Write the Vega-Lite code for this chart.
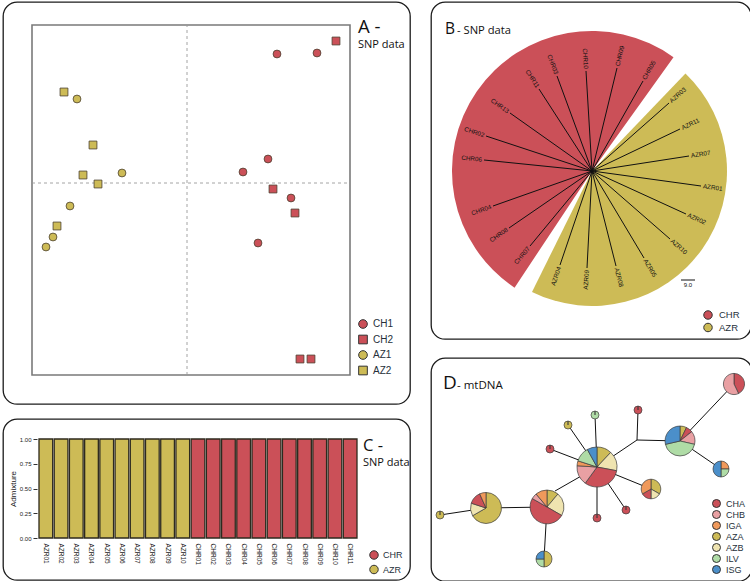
{
"$schema": "https://vega.github.io/schema/vega-lite/v6.json",
"background": "white",
"padding": {"left": 2, "top": 1, "right": 0, "bottom": 0},
"spacing": 19,
"resolve": {"scale": {"color": "independent", "shape": "independent"}, "legend": {"color": "independent", "shape": "independent"}},
"hconcat": [
{
"vconcat": [
{
"width": 407, "height": 402,
"layer": [
{"data": {"values": [{"x0": -1.55, "x1": 1.63, "y0": -1.92, "y1": 1.58}]},
 "mark": {"type": "rect", "fill": "white", "stroke": "#7a7a7a", "strokeWidth": 1.6},
 "encoding": {"x": {"field": "x0", "type": "quantitative", "scale": {"domain": [-1.84, 2.23], "nice": false, "zero": false}, "axis": null}, "x2": {"field": "x1"},
              "y": {"field": "y0", "type": "quantitative", "scale": {"domain": [-2.21, 1.81], "nice": false, "zero": false}, "axis": null}, "y2": {"field": "y1"}}},
{"data": {"values": [{"x0": 0, "x1": 0, "y0": -1.92, "y1": 1.58}, {"x0": -1.55, "x1": 1.63, "y0": 0, "y1": 0}]},
 "mark": {"type": "rule", "stroke": "#9a9a9a", "strokeWidth": 0.9, "strokeDash": [3, 3]},
 "encoding": {"x": {"field": "x0", "type": "quantitative", "scale": {"domain": [-1.84, 2.23], "nice": false, "zero": false}, "axis": null}, "x2": {"field": "x1"},
              "y": {"field": "y0", "type": "quantitative", "scale": {"domain": [-2.21, 1.81], "nice": false, "zero": false}, "axis": null}, "y2": {"field": "y1"}}},
{"data": {"values": [
  {"grp": "AZ2", "pc1": -1.23, "pc2": 0.91},
  {"grp": "AZ2", "pc1": -0.94, "pc2": 0.38},
  {"grp": "AZ2", "pc1": -1.04, "pc2": 0.08},
  {"grp": "AZ2", "pc1": -0.89, "pc2": -0.01},
  {"grp": "AZ2", "pc1": -1.30, "pc2": -0.43},
  {"grp": "AZ1", "pc1": -1.10, "pc2": 0.84},
  {"grp": "AZ1", "pc1": -0.65, "pc2": 0.10},
  {"grp": "AZ1", "pc1": -1.17, "pc2": -0.23},
  {"grp": "AZ1", "pc1": -1.34, "pc2": -0.54},
  {"grp": "AZ1", "pc1": -1.41, "pc2": -0.64},
  {"grp": "CH1", "pc1": 0.90, "pc2": 1.29},
  {"grp": "CH1", "pc1": 1.30, "pc2": 1.30},
  {"grp": "CH1", "pc1": 0.81, "pc2": 0.24},
  {"grp": "CH1", "pc1": 0.56, "pc2": 0.11},
  {"grp": "CH1", "pc1": 1.04, "pc2": -0.15},
  {"grp": "CH1", "pc1": 0.71, "pc2": -0.60},
  {"grp": "CH2", "pc1": 1.49, "pc2": 1.42},
  {"grp": "CH2", "pc1": 0.86, "pc2": -0.06},
  {"grp": "CH2", "pc1": 1.08, "pc2": -0.30},
  {"grp": "CH2", "pc1": 1.13, "pc2": -1.76},
  {"grp": "CH2", "pc1": 1.24, "pc2": -1.76}]},
 "mark": {"type": "point", "filled": true, "size": 62, "stroke": "#4a4030", "strokeWidth": 0.8, "opacity": 1},
 "encoding": {"x": {"field": "pc1", "type": "quantitative", "scale": {"domain": [-1.84, 2.23], "nice": false, "zero": false}, "axis": null},
              "y": {"field": "pc2", "type": "quantitative", "scale": {"domain": [-2.21, 1.81], "nice": false, "zero": false}, "axis": null},
              "color": {"field": "grp", "type": "nominal", "scale": {"domain": ["CH1", "CH2", "AZ1", "AZ2"], "range": ["#CB5058", "#CB5058", "#CDBB56", "#CDBB56"]},
                        "legend": {"title": null, "orient": "none", "legendX": 355, "legendY": 317, "symbolSize": 75, "labelFontSize": 10, "rowPadding": 1.5, "labelOffset": 5}},
              "shape": {"field": "grp", "type": "nominal", "scale": {"domain": ["CH1", "CH2", "AZ1", "AZ2"], "range": ["circle", "square", "circle", "square"]},
                        "legend": {"title": null, "orient": "none", "legendX": 355, "legendY": 317, "symbolSize": 75, "labelFontSize": 10, "rowPadding": 1.5, "labelOffset": 5}}}},
{"data": {"values": [{"t": "A -", "x": 1.71, "y": 1.50}]},
 "mark": {"type": "text", "font": "Open Sans", "fontSize": 18.5, "align": "left", "baseline": "alphabetic", "color": "#111111"},
 "encoding": {"x": {"field": "x", "type": "quantitative", "scale": {"domain": [-1.84, 2.23], "nice": false, "zero": false}, "axis": null},
              "y": {"field": "y", "type": "quantitative", "scale": {"domain": [-2.21, 1.81], "nice": false, "zero": false}, "axis": null},
              "text": {"field": "t", "type": "nominal"}}},
{"data": {"values": [{"t": "SNP data", "x": 1.71, "y": 1.35}]},
 "mark": {"type": "text", "font": "Open Sans", "fontSize": 11, "align": "left", "baseline": "alphabetic", "color": "#111111"},
 "encoding": {"x": {"field": "x", "type": "quantitative", "scale": {"domain": [-1.84, 2.23], "nice": false, "zero": false}, "axis": null},
              "y": {"field": "y", "type": "quantitative", "scale": {"domain": [-2.21, 1.81], "nice": false, "zero": false}, "axis": null},
              "text": {"field": "t", "type": "nominal"}}}
]
},
{
"width": 407, "height": 161,
"layer": [
{"data": {"values": [
  {"id": "AZR01", "pop": "AZR", "q": 1}, {"id": "AZR02", "pop": "AZR", "q": 1}, {"id": "AZR03", "pop": "AZR", "q": 1},
  {"id": "AZR04", "pop": "AZR", "q": 1}, {"id": "AZR05", "pop": "AZR", "q": 1}, {"id": "AZR06", "pop": "AZR", "q": 1},
  {"id": "AZR07", "pop": "AZR", "q": 1}, {"id": "AZR08", "pop": "AZR", "q": 1}, {"id": "AZR09", "pop": "AZR", "q": 1},
  {"id": "AZR10", "pop": "AZR", "q": 1},
  {"id": "CHR01", "pop": "CHR", "q": 1}, {"id": "CHR02", "pop": "CHR", "q": 1}, {"id": "CHR03", "pop": "CHR", "q": 1},
  {"id": "CHR04", "pop": "CHR", "q": 1}, {"id": "CHR05", "pop": "CHR", "q": 1}, {"id": "CHR06", "pop": "CHR", "q": 1},
  {"id": "CHR07", "pop": "CHR", "q": 1}, {"id": "CHR08", "pop": "CHR", "q": 1}, {"id": "CHR09", "pop": "CHR", "q": 1},
  {"id": "CHR10", "pop": "CHR", "q": 1}, {"id": "CHR11", "pop": "CHR", "q": 1}]},
 "mark": {"type": "bar", "stroke": "#2e2a1e", "strokeWidth": 1.3},
 "encoding": {
   "x": {"field": "id", "type": "nominal", "sort": null, "scale": {"range": [36, 354], "paddingInner": 0.1, "paddingOuter": 0},
         "axis": {"title": null, "orient": "bottom", "offset": -42, "labelAngle": 90, "ticks": false, "domain": false, "labelPadding": 5, "labelFontSize": 6.5, "labelFont": "Liberation Sans", "labelColor": "#222222"}},
   "y": {"field": "q", "type": "quantitative", "stack": null, "scale": {"domain": [0, 1], "range": [119, 20], "nice": false},
         "axis": {"values": [0, 0.25, 0.5, 0.75, 1], "format": ".2f", "offset": -34, "grid": false, "domain": false, "tickSize": 4, "tickColor": "#333333",
                  "labelFontSize": 6, "labelFont": "Liberation Sans", "labelColor": "#222222", "labelPadding": 2, "title": "Admixture", "titleFontSize": 8, "titleFont": "Liberation Sans", "titleFontWeight": "normal", "titleColor": "#222222", "titlePadding": 2}},
   "color": {"field": "pop", "type": "nominal", "scale": {"domain": ["CHR", "AZR"], "range": ["#CB5058", "#CDBB56"]},
             "legend": {"title": null, "orient": "none", "legendX": 366, "legendY": 131, "symbolType": "circle", "symbolSize": 72, "labelFontSize": 9, "rowPadding": 0.5, "labelOffset": 4}}}},
{"data": {"values": [{"t": "C -", "px": 0.8845, "py": 0.80}]},
 "mark": {"type": "text", "font": "Open Sans", "fontSize": 16.5, "align": "left", "baseline": "alphabetic", "color": "#111111"},
 "encoding": {"x": {"field": "px", "type": "quantitative", "scale": {"domain": [0, 1], "nice": false, "zero": false}, "axis": null},
              "y": {"field": "py", "type": "quantitative", "scale": {"domain": [0, 1], "nice": false, "zero": false}, "axis": null},
              "text": {"field": "t", "type": "nominal"}}},
{"data": {"values": [{"t": "SNP data", "px": 0.8845, "py": 0.705}]},
 "mark": {"type": "text", "font": "Open Sans", "fontSize": 11, "align": "left", "baseline": "alphabetic", "color": "#111111"},
 "encoding": {"x": {"field": "px", "type": "quantitative", "scale": {"domain": [0, 1], "nice": false, "zero": false}, "axis": null},
              "y": {"field": "py", "type": "quantitative", "scale": {"domain": [0, 1], "nice": false, "zero": false}, "axis": null},
              "text": {"field": "t", "type": "nominal"}}}
],
"resolve": {"scale": {"x": "independent", "y": "independent"}}
}
],
"spacing": 15,
"bounds": "flush",
"resolve": {"scale": {"color": "independent", "shape": "independent"}, "legend": {"color": "independent", "shape": "independent"}}
},
{
"vconcat": [
{
"width": 320, "height": 337,
"layer": [
{"data": {"values": [{"pop": "CHR", "cx": 0, "cy": 0, "a0": -0.4067, "a1": 0.0989}]},
 "mark": {"type": "arc", "outerRadius": 140},
 "encoding": {"x": {"field": "cx", "type": "quantitative", "stack": null, "scale": {"domain": [-161, 159], "nice": false, "zero": false}, "axis": null},
              "y": {"field": "cy", "type": "quantitative", "stack": null, "scale": {"domain": [-168, 169], "nice": false, "zero": false}, "axis": null},
              "theta": {"field": "a0", "type": "quantitative", "stack": null, "scale": {"domain": [0, 1], "range": [0, 6.283185]}},
              "theta2": {"field": "a1"},
              "color": {"field": "pop", "type": "nominal", "scale": {"domain": ["CHR", "AZR"], "range": ["#CB5058", "#CDBB56"]},
                        "legend": {"title": null, "orient": "none", "legendX": 272, "legendY": 308, "symbolType": "circle", "symbolSize": 72, "labelFontSize": 9.5, "rowPadding": -1.5, "labelOffset": 6}}}},
{"data": {"values": [{"pop": "AZR", "cx": 0, "cy": 0, "a0": 0.1217, "a1": 0.5733}]},
 "mark": {"type": "arc", "outerRadius": 135},
 "encoding": {"x": {"field": "cx", "type": "quantitative", "stack": null, "scale": {"domain": [-161, 159], "nice": false, "zero": false}, "axis": null},
              "y": {"field": "cy", "type": "quantitative", "stack": null, "scale": {"domain": [-168, 169], "nice": false, "zero": false}, "axis": null},
              "theta": {"field": "a0", "type": "quantitative", "stack": null, "scale": {"domain": [0, 1], "range": [0, 6.283185]}},
              "theta2": {"field": "a1"},
              "color": {"field": "pop", "type": "nominal", "scale": {"domain": ["CHR", "AZR"], "range": ["#CB5058", "#CDBB56"]},
                        "legend": {"title": null, "orient": "none", "legendX": 272, "legendY": 308, "symbolType": "circle", "symbolSize": 72, "labelFontSize": 9.5, "rowPadding": -1.5, "labelOffset": 6}}}},
{"data": {"name": "tree"},
 "mark": {"type": "rule", "stroke": "#111111", "strokeWidth": 1},
 "encoding": {"x": {"field": "cx", "type": "quantitative", "scale": {"domain": [-161, 159], "nice": false, "zero": false}, "axis": null},
              "y": {"field": "cy", "type": "quantitative", "scale": {"domain": [-168, 169], "nice": false, "zero": false}, "axis": null},
              "x2": {"field": "tx"}, "y2": {"field": "ty"}}},
{"data": {"name": "tree"},
 "transform": [{"filter": {"field": "theta", "lt": 180}}],
 "mark": {"type": "text", "font": "Liberation Sans", "fontSize": 6.3, "align": "left", "baseline": "middle", "dx": 2, "color": "#111111"},
 "encoding": {"x": {"field": "tx", "type": "quantitative", "scale": {"domain": [-161, 159], "nice": false, "zero": false}, "axis": null},
              "y": {"field": "ty", "type": "quantitative", "scale": {"domain": [-168, 169], "nice": false, "zero": false}, "axis": null},
              "angle": {"field": "theta", "type": "quantitative", "scale": {"domain": [0, 180], "range": [-90, 90]}, "legend": null},
              "text": {"field": "id", "type": "nominal"}}},
{"data": {"name": "tree"},
 "transform": [{"filter": {"field": "theta", "gte": 180}}],
 "mark": {"type": "text", "font": "Liberation Sans", "fontSize": 6.3, "align": "right", "baseline": "middle", "dx": -2, "color": "#111111"},
 "encoding": {"x": {"field": "tx", "type": "quantitative", "scale": {"domain": [-161, 159], "nice": false, "zero": false}, "axis": null},
              "y": {"field": "ty", "type": "quantitative", "scale": {"domain": [-168, 169], "nice": false, "zero": false}, "axis": null},
              "angle": {"field": "theta", "type": "quantitative", "scale": {"domain": [180, 360], "range": [-90, 90]}, "legend": null},
              "text": {"field": "id", "type": "nominal"}}},
{"data": {"values": [{"x0": 89, "x1": 103, "y0": -109}]},
 "mark": {"type": "rule", "stroke": "#111111", "strokeWidth": 1},
 "encoding": {"x": {"field": "x0", "type": "quantitative", "scale": {"domain": [-161, 159], "nice": false, "zero": false}, "axis": null},
              "x2": {"field": "x1"},
              "y": {"field": "y0", "type": "quantitative", "scale": {"domain": [-168, 169], "nice": false, "zero": false}, "axis": null}}},
{"data": {"values": [{"t": "9.0", "x": 96, "y": -116}]},
 "mark": {"type": "text", "font": "Liberation Sans", "fontSize": 6, "align": "center", "baseline": "alphabetic", "color": "#111111"},
 "encoding": {"x": {"field": "x", "type": "quantitative", "scale": {"domain": [-161, 159], "nice": false, "zero": false}, "axis": null},
              "y": {"field": "y", "type": "quantitative", "scale": {"domain": [-168, 169], "nice": false, "zero": false}, "axis": null},
              "text": {"field": "t", "type": "nominal"}}},
{"data": {"values": [{"t": "B", "x": -147, "y": 137}]},
 "mark": {"type": "text", "font": "Open Sans", "fontSize": 15.5, "align": "left", "baseline": "alphabetic", "color": "#111111"},
 "encoding": {"x": {"field": "x", "type": "quantitative", "scale": {"domain": [-161, 159], "nice": false, "zero": false}, "axis": null},
              "y": {"field": "y", "type": "quantitative", "scale": {"domain": [-168, 169], "nice": false, "zero": false}, "axis": null},
              "text": {"field": "t", "type": "nominal"}}},
{"data": {"values": [{"t": "- SNP data", "x": -135, "y": 137}]},
 "mark": {"type": "text", "font": "Open Sans", "fontSize": 11.2, "align": "left", "baseline": "alphabetic", "color": "#111111"},
 "encoding": {"x": {"field": "x", "type": "quantitative", "scale": {"domain": [-161, 159], "nice": false, "zero": false}, "axis": null},
              "y": {"field": "y", "type": "quantitative", "scale": {"domain": [-168, 169], "nice": false, "zero": false}, "axis": null},
              "text": {"field": "t", "type": "nominal"}}}
],
"resolve": {"scale": {"angle": "independent"}}
},
{
"width": 321, "height": 223,
"layer": [
{"data": {"values": [
  {"x": 9, "y": 66, "x2": 55, "y2": 73},
  {"x": 55, "y": 73, "x2": 116, "y2": 74},
  {"x": 116, "y": 74, "x2": 113, "y2": 22},
  {"x": 124, "y": 90, "x2": 166, "y2": 114},
  {"x": 166, "y": 114, "x2": 119, "y2": 132},
  {"x": 166, "y": 114, "x2": 137, "y2": 156},
  {"x": 166, "y": 114, "x2": 164, "y2": 166},
  {"x": 166, "y": 114, "x2": 166, "y2": 63},
  {"x": 166, "y": 114, "x2": 195, "y2": 71},
  {"x": 166, "y": 114, "x2": 220, "y2": 92},
  {"x": 166, "y": 114, "x2": 206, "y2": 141},
  {"x": 206, "y": 141, "x2": 207, "y2": 171},
  {"x": 206, "y": 141, "x2": 249, "y2": 140},
  {"x": 249, "y": 140, "x2": 303, "y2": 197},
  {"x": 249, "y": 140, "x2": 290, "y2": 112}]},
 "mark": {"type": "rule", "stroke": "#111111", "strokeWidth": 1},
 "encoding": {"x": {"field": "x", "type": "quantitative", "scale": {"domain": [0, 321], "nice": false, "zero": false}, "axis": null},
              "y": {"field": "y", "type": "quantitative", "scale": {"domain": [0, 223], "nice": false, "zero": false}, "axis": null},
              "x2": {"field": "x2"}, "y2": {"field": "y2"}}},
{"data": {"values": [
  {"node": "N1", "x": 9, "y": 66, "n": 1, "hap": "AZA", "cnt": 1},
  {"node": "N2", "x": 55, "y": 73, "n": 15, "hap": "AZA", "cnt": 10},
  {"node": "N2", "x": 55, "y": 73, "n": 15, "hap": "AZB", "cnt": 2},
  {"node": "N2", "x": 55, "y": 73, "n": 15, "hap": "CHA", "cnt": 2},
  {"node": "N2", "x": 55, "y": 73, "n": 15, "hap": "IGA", "cnt": 1},
  {"node": "N3", "x": 116, "y": 74, "n": 18, "hap": "AZA", "cnt": 2},
  {"node": "N3", "x": 116, "y": 74, "n": 18, "hap": "AZB", "cnt": 4},
  {"node": "N3", "x": 116, "y": 74, "n": 18, "hap": "CHA", "cnt": 9},
  {"node": "N3", "x": 116, "y": 74, "n": 18, "hap": "CHB", "cnt": 1},
  {"node": "N3", "x": 116, "y": 74, "n": 18, "hap": "IGA", "cnt": 2},
  {"node": "N4", "x": 113, "y": 22, "n": 4, "hap": "AZA", "cnt": 2},
  {"node": "N4", "x": 113, "y": 22, "n": 4, "hap": "ILV", "cnt": 1},
  {"node": "N4", "x": 113, "y": 22, "n": 4, "hap": "ISG", "cnt": 1},
  {"node": "N5", "x": 119, "y": 132, "n": 1, "hap": "CHA", "cnt": 1},
  {"node": "N6", "x": 137, "y": 156, "n": 1, "hap": "AZA", "cnt": 1},
  {"node": "N7", "x": 164, "y": 166, "n": 1, "hap": "ILV", "cnt": 1},
  {"node": "N8", "x": 166, "y": 114, "n": 25, "hap": "AZA", "cnt": 3},
  {"node": "N8", "x": 166, "y": 114, "n": 25, "hap": "AZB", "cnt": 4},
  {"node": "N8", "x": 166, "y": 114, "n": 25, "hap": "CHA", "cnt": 8},
  {"node": "N8", "x": 166, "y": 114, "n": 25, "hap": "CHB", "cnt": 4},
  {"node": "N8", "x": 166, "y": 114, "n": 25, "hap": "IGA", "cnt": 1},
  {"node": "N8", "x": 166, "y": 114, "n": 25, "hap": "ILV", "cnt": 3},
  {"node": "N8", "x": 166, "y": 114, "n": 25, "hap": "ISG", "cnt": 2},
  {"node": "N9", "x": 166, "y": 63, "n": 1, "hap": "CHA", "cnt": 1},
  {"node": "N10", "x": 195, "y": 71, "n": 1, "hap": "CHA", "cnt": 1},
  {"node": "N11", "x": 220, "y": 92, "n": 6, "hap": "AZA", "cnt": 2},
  {"node": "N11", "x": 220, "y": 92, "n": 6, "hap": "AZB", "cnt": 1},
  {"node": "N11", "x": 220, "y": 92, "n": 6, "hap": "CHA", "cnt": 1},
  {"node": "N11", "x": 220, "y": 92, "n": 6, "hap": "IGA", "cnt": 2},
  {"node": "N12", "x": 207, "y": 171, "n": 1, "hap": "CHA", "cnt": 1},
  {"node": "N13", "x": 249, "y": 140, "n": 14, "hap": "AZA", "cnt": 1},
  {"node": "N13", "x": 249, "y": 140, "n": 14, "hap": "CHA", "cnt": 1},
  {"node": "N13", "x": 249, "y": 140, "n": 14, "hap": "CHB", "cnt": 2},
  {"node": "N13", "x": 249, "y": 140, "n": 14, "hap": "ILV", "cnt": 6},
  {"node": "N13", "x": 249, "y": 140, "n": 14, "hap": "ISG", "cnt": 4},
  {"node": "N14", "x": 303, "y": 197, "n": 7, "hap": "CHA", "cnt": 3},
  {"node": "N14", "x": 303, "y": 197, "n": 7, "hap": "CHB", "cnt": 4},
  {"node": "N15", "x": 290, "y": 112, "n": 4, "hap": "IGA", "cnt": 1},
  {"node": "N15", "x": 290, "y": 112, "n": 4, "hap": "ILV", "cnt": 1},
  {"node": "N15", "x": 290, "y": 112, "n": 4, "hap": "ISG", "cnt": 2}]},
 "transform": [{"stack": "cnt", "groupby": ["node"], "sort": [{"field": "hap", "order": "ascending"}], "offset": "normalize", "as": ["t0", "t1"]}],
 "mark": {"type": "arc", "stroke": "#3c3c3c", "strokeWidth": 0.7},
 "encoding": {"x": {"field": "x", "type": "quantitative", "stack": null, "scale": {"domain": [0, 321], "nice": false, "zero": false}, "axis": null},
              "y": {"field": "y", "type": "quantitative", "stack": null, "scale": {"domain": [0, 223], "nice": false, "zero": false}, "axis": null},
              "theta": {"field": "t0", "type": "quantitative", "stack": null, "scale": {"domain": [0, 1], "range": [0, 6.283185]}},
              "theta2": {"field": "t1"},
              "radius": {"field": "n", "type": "quantitative", "stack": null, "scale": {"type": "sqrt", "domain": [0, 25], "range": [0, 20], "zero": true}},
              "color": {"field": "hap", "type": "nominal", "scale": {"domain": ["CHA", "CHB", "IGA", "AZA", "AZB", "ILV", "ISG"], "range": ["#CB5058", "#E9A0A3", "#F0995B", "#CDBB56", "#EFE4B0", "#AFDCA6", "#4B8FCA"]},
                        "legend": {"title": null, "orient": "none", "legendX": 281, "legendY": 141, "symbolType": "circle", "symbolSize": 64, "labelFontSize": 9, "rowPadding": -2.2, "labelOffset": 5}}}},
{"data": {"values": [{"t": "D", "x": 12, "y": 192}]},
 "mark": {"type": "text", "font": "Open Sans", "fontSize": 19, "align": "left", "baseline": "alphabetic", "color": "#111111"},
 "encoding": {"x": {"field": "x", "type": "quantitative", "scale": {"domain": [0, 321], "nice": false, "zero": false}, "axis": null},
              "y": {"field": "y", "type": "quantitative", "scale": {"domain": [0, 223], "nice": false, "zero": false}, "axis": null},
              "text": {"field": "t", "type": "nominal"}}},
{"data": {"values": [{"t": "- mtDNA", "x": 26, "y": 192}]},
 "mark": {"type": "text", "font": "Open Sans", "fontSize": 11.5, "align": "left", "baseline": "alphabetic", "color": "#111111"},
 "encoding": {"x": {"field": "x", "type": "quantitative", "scale": {"domain": [0, 321], "nice": false, "zero": false}, "axis": null},
              "y": {"field": "y", "type": "quantitative", "scale": {"domain": [0, 223], "nice": false, "zero": false}, "axis": null},
              "text": {"field": "t", "type": "nominal"}}}
]
}
],
"spacing": 19,
"bounds": "flush",
"resolve": {"scale": {"color": "independent", "shape": "independent"}, "legend": {"color": "independent", "shape": "independent"}}
}
],
"datasets": {
"tree": [
  {"id": "CHR10", "cx": 0, "cy": 0, "tx": -6, "ty": 100, "theta": 356.6},
  {"id": "CHR03", "cx": 0, "cy": 0, "tx": -35, "ty": 95, "theta": 339.8},
  {"id": "CHR11", "cx": 0, "cy": 0, "tx": -53, "ty": 82, "theta": 327.1},
  {"id": "CHR13", "cx": 0, "cy": 0, "tx": -82, "ty": 58, "theta": 305.3},
  {"id": "CHR02", "cx": 0, "cy": 0, "tx": -106, "ty": 35, "theta": 288.3},
  {"id": "CHR06", "cx": 0, "cy": 0, "tx": -108, "ty": 11, "theta": 275.8},
  {"id": "CHR04", "cx": 0, "cy": 0, "tx": -99, "ty": -35, "theta": 250.5},
  {"id": "CHR08", "cx": 0, "cy": 0, "tx": -83, "ty": -57, "theta": 235.5},
  {"id": "CHR07", "cx": 0, "cy": 0, "tx": -62, "ty": -75, "theta": 219.6},
  {"id": "CHR09", "cx": 0, "cy": 0, "tx": 25, "ty": 103, "theta": 13.6},
  {"id": "CHR05", "cx": 0, "cy": 0, "tx": 51, "ty": 90, "theta": 29.5},
  {"id": "AZR03", "cx": 0, "cy": 0, "tx": 77, "ty": 68, "theta": 48.6},
  {"id": "AZR11", "cx": 0, "cy": 0, "tx": 88, "ty": 42, "theta": 64.5},
  {"id": "AZR07", "cx": 0, "cy": 0, "tx": 97, "ty": 15, "theta": 81.2},
  {"id": "AZR01", "cx": 0, "cy": 0, "tx": 109, "ty": -15, "theta": 97.8},
  {"id": "AZR02", "cx": 0, "cy": 0, "tx": 94, "ty": -43, "theta": 114.6},
  {"id": "AZR10", "cx": 0, "cy": 0, "tx": 78, "ty": -68, "theta": 131.1},
  {"id": "AZR05", "cx": 0, "cy": 0, "tx": 52, "ty": -87, "theta": 149.1},
  {"id": "AZR08", "cx": 0, "cy": 0, "tx": 24, "ty": -95, "theta": 165.8},
  {"id": "AZR09", "cx": 0, "cy": 0, "tx": -5, "ty": -97, "theta": 183.0},
  {"id": "AZR04", "cx": 0, "cy": 0, "tx": -32, "ty": -94, "theta": 198.8}
]
},
"config": {
  "view": {"stroke": "#1c1c1c", "strokeWidth": 1.3, "cornerRadius": 14, "fill": "white"},
  "legend": {"symbolStrokeColor": "#333333", "symbolStrokeWidth": 1, "labelFont": "Liberation Sans", "labelColor": "#26303a", "padding": 0, "titlePadding": 0},
  "text": {"font": "Liberation Sans"}
}
}
